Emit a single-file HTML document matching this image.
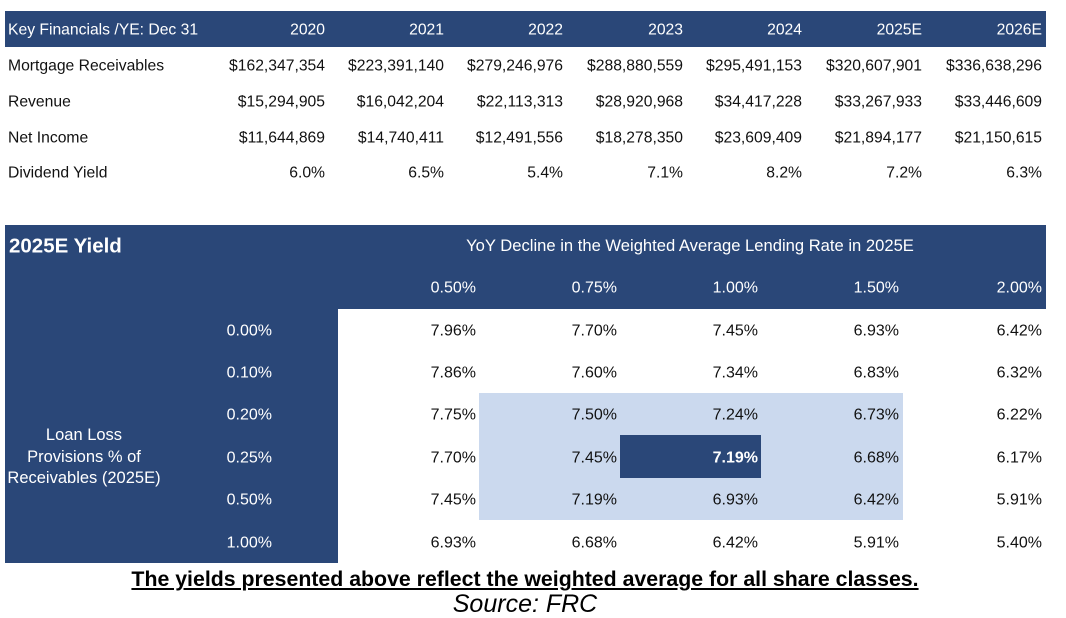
<!DOCTYPE html>
<html><head><meta charset="utf-8"><style>
body{margin:0;width:1066px;height:618px;background:#fff;position:relative;font-family:"Liberation Sans",Arial,sans-serif;overflow:hidden}
.a{position:absolute;font-size:15.7px;line-height:18px;color:#111;white-space:nowrap}
.b .a{font-size:16px}
.r{transform:translate(-100%,calc(-50% + 1.5px))}
.l{transform:translate(0,calc(-50% + 1.5px))}
.c{transform:translate(-50%,calc(-50% + 1px));text-align:center}
.w{color:#fff}
.bx{position:absolute}
</style></head><body>
<div class="bx" style="left:5px;top:11px;width:1041px;height:36px;background:#2A4778"></div>
<div class="bx" style="left:5px;top:225px;width:1041px;height:84px;background:#2A4778"></div>
<div class="bx" style="left:5px;top:225px;width:333px;height:338px;background:#2A4778"></div>
<div class="bx" style="left:479px;top:393px;width:424px;height:127px;background:#CBD9EE"></div>
<div class="bx" style="left:620px;top:435px;width:141px;height:43px;background:#2A4778"></div>

<div class="a l w" style="left:8px;top:29px">Key Financials /YE: Dec 31</div>
<div class="a r w" style="left:325px;top:29px">2020</div>
<div class="a r w" style="left:444px;top:29px">2021</div>
<div class="a r w" style="left:563px;top:29px">2022</div>
<div class="a r w" style="left:683px;top:29px">2023</div>
<div class="a r w" style="left:802px;top:29px">2024</div>
<div class="a r w" style="left:922px;top:29px">2025E</div>
<div class="a r w" style="left:1042px;top:29px">2026E</div>

<div class="a l" style="left:8px;top:65px">Mortgage Receivables</div>
<div class="a r" style="left:325px;top:65px">$162,347,354</div>
<div class="a r" style="left:444px;top:65px">$223,391,140</div>
<div class="a r" style="left:563px;top:65px">$279,246,976</div>
<div class="a r" style="left:683px;top:65px">$288,880,559</div>
<div class="a r" style="left:802px;top:65px">$295,491,153</div>
<div class="a r" style="left:922px;top:65px">$320,607,901</div>
<div class="a r" style="left:1042px;top:65px">$336,638,296</div>

<div class="a l" style="left:8px;top:101px">Revenue</div>
<div class="a r" style="left:325px;top:101px">$15,294,905</div>
<div class="a r" style="left:444px;top:101px">$16,042,204</div>
<div class="a r" style="left:563px;top:101px">$22,113,313</div>
<div class="a r" style="left:683px;top:101px">$28,920,968</div>
<div class="a r" style="left:802px;top:101px">$34,417,228</div>
<div class="a r" style="left:922px;top:101px">$33,267,933</div>
<div class="a r" style="left:1042px;top:101px">$33,446,609</div>

<div class="a l" style="left:8px;top:137px">Net Income</div>
<div class="a r" style="left:325px;top:137px">$11,644,869</div>
<div class="a r" style="left:444px;top:137px">$14,740,411</div>
<div class="a r" style="left:563px;top:137px">$12,491,556</div>
<div class="a r" style="left:683px;top:137px">$18,278,350</div>
<div class="a r" style="left:802px;top:137px">$23,609,409</div>
<div class="a r" style="left:922px;top:137px">$21,894,177</div>
<div class="a r" style="left:1042px;top:137px">$21,150,615</div>

<div class="a l" style="left:8px;top:172px">Dividend Yield</div>
<div class="a r" style="left:325px;top:172px">6.0%</div>
<div class="a r" style="left:444px;top:172px">6.5%</div>
<div class="a r" style="left:563px;top:172px">5.4%</div>
<div class="a r" style="left:683px;top:172px">7.1%</div>
<div class="a r" style="left:802px;top:172px">8.2%</div>
<div class="a r" style="left:922px;top:172px">7.2%</div>
<div class="a r" style="left:1042px;top:172px">6.3%</div>

<div class="b">
<div class="a l w" style="left:9px;top:245px;font-size:20.5px;font-weight:bold">2025E Yield</div>
<div class="a c w" style="left:690px;top:245px;font-size:16.6px">YoY Decline in the Weighted Average Lending Rate in 2025E</div>
<div class="a r w" style="left:476px;top:287px">0.50%</div>
<div class="a r w" style="left:617px;top:287px">0.75%</div>
<div class="a r w" style="left:758px;top:287px">1.00%</div>
<div class="a r w" style="left:899px;top:287px">1.50%</div>
<div class="a r w" style="left:1042px;top:287px">2.00%</div>

<div class="a c w" style="left:84px;top:456px;line-height:21.5px;font-size:16.5px">Loan Loss<br>Provisions % of<br>Receivables (2025E)</div>

<div class="a r w" style="left:272px;top:330px">0.00%</div>
<div class="a r w" style="left:272px;top:372px">0.10%</div>
<div class="a r w" style="left:272px;top:414px">0.20%</div>
<div class="a r w" style="left:272px;top:457px">0.25%</div>
<div class="a r w" style="left:272px;top:499px">0.50%</div>
<div class="a r w" style="left:272px;top:542px">1.00%</div>

<div class="a r" style="left:476px;top:330px">7.96%</div><div class="a r" style="left:617px;top:330px">7.70%</div><div class="a r" style="left:758px;top:330px">7.45%</div><div class="a r" style="left:899px;top:330px">6.93%</div><div class="a r" style="left:1042px;top:330px">6.42%</div>
<div class="a r" style="left:476px;top:372px">7.86%</div><div class="a r" style="left:617px;top:372px">7.60%</div><div class="a r" style="left:758px;top:372px">7.34%</div><div class="a r" style="left:899px;top:372px">6.83%</div><div class="a r" style="left:1042px;top:372px">6.32%</div>
<div class="a r" style="left:476px;top:414px">7.75%</div><div class="a r" style="left:617px;top:414px">7.50%</div><div class="a r" style="left:758px;top:414px">7.24%</div><div class="a r" style="left:899px;top:414px">6.73%</div><div class="a r" style="left:1042px;top:414px">6.22%</div>
<div class="a r" style="left:476px;top:457px">7.70%</div><div class="a r" style="left:617px;top:457px">7.45%</div><div class="a r w" style="left:758px;top:457px;font-weight:bold">7.19%</div><div class="a r" style="left:899px;top:457px">6.68%</div><div class="a r" style="left:1042px;top:457px">6.17%</div>
<div class="a r" style="left:476px;top:499px">7.45%</div><div class="a r" style="left:617px;top:499px">7.19%</div><div class="a r" style="left:758px;top:499px">6.93%</div><div class="a r" style="left:899px;top:499px">6.42%</div><div class="a r" style="left:1042px;top:499px">5.91%</div>
<div class="a r" style="left:476px;top:542px">6.93%</div><div class="a r" style="left:617px;top:542px">6.68%</div><div class="a r" style="left:758px;top:542px">6.42%</div><div class="a r" style="left:899px;top:542px">5.91%</div><div class="a r" style="left:1042px;top:542px">5.40%</div>
</div>

<div class="a c" style="left:525px;top:578px;font-size:21.3px;font-weight:bold;text-decoration:underline;color:#000;line-height:22px">The yields presented above reflect the weighted average for all share classes.</div>
<div class="a c" style="left:525px;top:603px;font-size:25px;font-style:italic;color:#000;line-height:26px">Source: FRC</div>
</body></html>
